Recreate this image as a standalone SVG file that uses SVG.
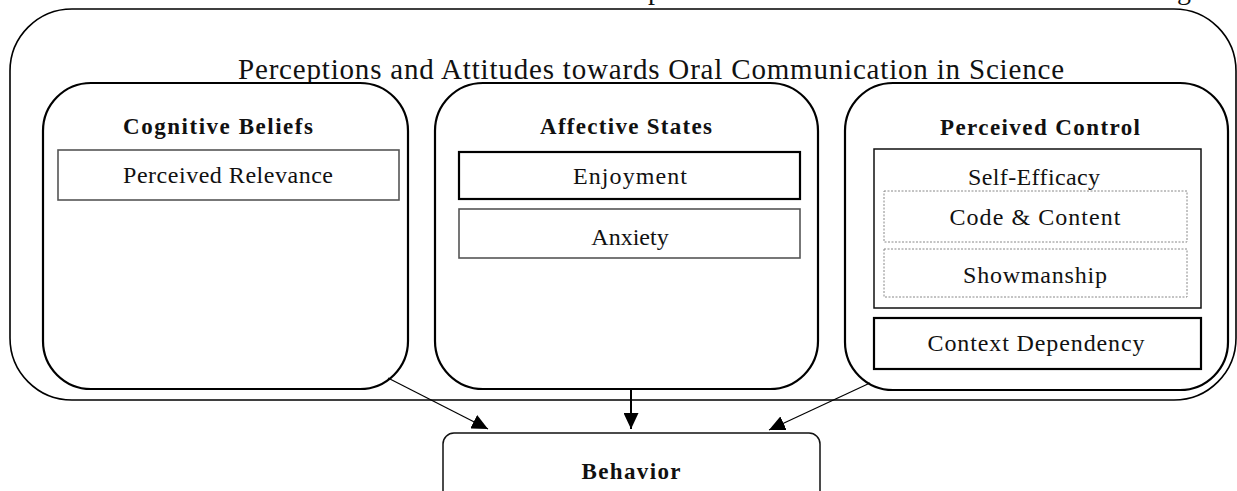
<svg xmlns="http://www.w3.org/2000/svg" width="1237" height="491" viewBox="0 0 1237 491">
<style>
text{font-family:"Liberation Serif","Times New Roman",serif;fill:#111;text-anchor:middle}
.h{font-weight:bold;font-size:23px}
.t{font-size:24px}
.group{fill:#fff;stroke:#000;stroke-width:2.2}
.outer{fill:#fff;stroke:#000;stroke-width:1.6}
.soft{fill:#fff;stroke:#555;stroke-width:1.6}
.hard{fill:#fff;stroke:#000;stroke-width:2.2}
.mid{fill:#fff;stroke:#111;stroke-width:1.5}
.dash{fill:#fff;stroke:#888;stroke-width:1;stroke-dasharray:2 1.5}
.conn{stroke:#000;fill:none}
</style>
<defs>
<marker id="ah" markerUnits="userSpaceOnUse" markerWidth="16" markerHeight="15" refX="16" refY="7.5" orient="auto">
<path d="M0,0 L16,7.5 L0,15 z" fill="#000"/>
</marker>
</defs>
<g id="fragments">
<text x="655" y="-1" style="font-size:28px">p</text>
<text x="1184" y="-1" style="font-size:28px">g</text>
</g>
<g id="outer">
<rect class="outer" x="10" y="9" width="1226" height="391" rx="62" ry="62"/>
<text x="651" y="79" style="font-size:29px" textLength="826">Perceptions and Attitudes towards Oral Communication in Science</text>
</g>
<g id="cognitive">
<rect class="group" x="43" y="83" width="365" height="306" rx="48" ry="48"/>
<text class="h" x="218" y="134" textLength="190">Cognitive Beliefs</text>
<rect class="soft" x="58" y="150" width="341" height="50"/>
<text class="t" x="228" y="183" textLength="210">Perceived Relevance</text>
</g>
<g id="affective">
<rect class="group" x="435" y="83" width="383" height="306" rx="48" ry="48"/>
<text class="h" x="626" y="134" textLength="172">Affective States</text>
<rect class="hard" x="459" y="152" width="341" height="47"/>
<text class="t" x="630" y="184" textLength="114">Enjoyment</text>
<rect class="soft" x="459" y="209" width="341" height="49"/>
<text class="t" x="630" y="245">Anxiety</text>
</g>
<g id="control">
<rect class="group" x="845" y="83" width="383" height="307" rx="48" ry="48"/>
<text class="h" x="1040" y="135" textLength="200">Perceived Control</text>
<rect class="mid" x="874" y="149" width="327" height="159"/>
<text class="t" x="1034" y="185" textLength="132">Self-Efficacy</text>
<rect class="dash" x="884" y="191" width="303" height="51"/>
<text class="t" x="1035" y="225" textLength="171">Code &amp; Content</text>
<rect class="dash" x="884" y="249" width="303" height="48"/>
<text class="t" x="1035" y="283" textLength="144">Showmanship</text>
<rect class="hard" x="874" y="318" width="327" height="51"/>
<text class="t" x="1036" y="351" textLength="217">Context Dependency</text>
</g>
<g id="behavior">
<rect class="mid" x="443" y="433" width="377" height="70" rx="11" ry="11"/>
<text class="h" x="631" y="479" textLength="99">Behavior</text>
</g>
<g id="connectors">
<line class="conn" x1="388" y1="378" x2="488" y2="429" stroke-width="1.2" marker-end="url(#ah)"/>
<line class="conn" x1="631" y1="390" x2="631" y2="429" stroke-width="2" marker-end="url(#ah)"/>
<line class="conn" x1="870" y1="383" x2="769" y2="430" stroke-width="1.2" marker-end="url(#ah)"/>
</g>
</svg>
